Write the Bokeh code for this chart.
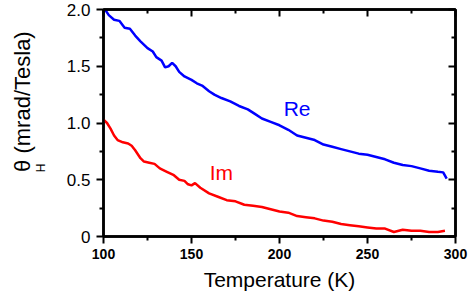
from bokeh.plotting import figure
from bokeh.models import Range1d, FixedTicker, LinearAxis, Label
from bokeh.embed import file_html
from bokeh.resources import INLINE

# Data
T_re = [100, 103, 106, 109, 112, 115, 118, 121, 125, 128, 130, 133, 135, 137, 139, 141, 143, 146,
        150, 153, 156, 160, 163, 167, 172, 177, 182, 186, 190, 195, 200, 205, 210, 215, 220,
        225, 230, 235, 240, 245, 250, 255, 260, 265, 270, 275, 280, 285, 290, 293, 295]
re_vals = [2.02, 1.95, 1.91, 1.90, 1.84, 1.83, 1.77, 1.72, 1.66, 1.63, 1.58, 1.55, 1.49, 1.50, 1.53, 1.50, 1.45, 1.41,
           1.38, 1.35, 1.33, 1.28, 1.25, 1.22, 1.19, 1.15, 1.12, 1.08, 1.04, 1.01, 0.98, 0.94, 0.89, 0.87, 0.85,
           0.81, 0.79, 0.77, 0.75, 0.73, 0.72, 0.70, 0.68, 0.65, 0.63, 0.62, 0.60, 0.58, 0.57, 0.565, 0.51]

T_im = [100, 102, 104, 106, 108, 111, 114, 116, 118, 121, 123, 126, 129, 132, 136, 140, 143, 146, 148,
        150, 152, 155, 160, 165, 170, 175, 180, 185, 190, 195, 200, 205, 210, 215, 220, 225, 230,
        235, 240, 245, 250, 255, 260, 265, 270, 275, 280, 285, 290, 294]
im_vals = [1.03, 1.00, 0.95, 0.89, 0.85, 0.83, 0.82, 0.80, 0.76, 0.69, 0.66, 0.65, 0.64, 0.60, 0.57, 0.54, 0.50, 0.49, 0.46,
           0.45, 0.47, 0.43, 0.38, 0.35, 0.32, 0.31, 0.28, 0.27, 0.26, 0.24, 0.22, 0.21, 0.18, 0.17, 0.16, 0.14, 0.13,
           0.11, 0.10, 0.09, 0.08, 0.07, 0.07, 0.04, 0.06, 0.05, 0.05, 0.04, 0.04, 0.05]

x_ticks = [100, 150, 200, 250, 300]
x_minor = [125, 175, 225, 275]
y_ticks = [0, 0.5, 1.0, 1.5, 2.0]
y_minor = [0.25, 0.75, 1.25, 1.75]
y_tick_labels = {0: "0", 0.5: "0.5", 1.0: "1.0", 1.5: "1.5", 2.0: "2.0"}

FONT = "Liberation Sans"
NB = "\u00a0"

p = figure(width=469, height=306, output_backend="svg", toolbar_location=None,
           x_range=Range1d(100, 300), y_range=Range1d(0, 2.0),
           min_border_left=103, min_border_right=14, min_border_top=9, min_border_bottom=70)
p.background_fill_color = "white"
p.border_fill_color = "white"
p.grid.visible = False
p.outline_line_color = "black"
p.outline_line_width = 2.5

p.line(T_re, re_vals, line_color="#0000ff", line_width=2.5)
p.line(T_im, im_vals, line_color="#ff0000", line_width=2.5)

xa = p.xaxis[0]
xa.ticker = FixedTicker(ticks=x_ticks, minor_ticks=x_minor)
xa.axis_label = "Temperature (K)"
xa.axis_label_text_font = FONT
xa.axis_label_text_font_size = "21px"
xa.axis_label_text_font_style = "normal"
xa.axis_label_standoff = 6
xa.major_label_text_font = FONT
xa.major_label_text_font_style = "bold"
xa.major_label_text_font_size = "14px"
xa.major_label_standoff = 5

ya = p.yaxis[0]
ya.ticker = FixedTicker(ticks=y_ticks, minor_ticks=y_minor)
ya.major_label_overrides = y_tick_labels
ya.major_label_text_font = FONT
ya.major_label_text_font_size = "17px"
ya.major_label_standoff = 6
# subscript "H" of the y label (padded so that it sits after the theta)
ya.axis_label = "H" + NB * 27
ya.axis_label_text_font = FONT
ya.axis_label_text_font_size = "12px"
ya.axis_label_text_font_style = "normal"
ya.axis_label_standoff = 16

for ax in (xa, ya):
    ax.axis_line_color = "black"
    ax.axis_line_width = 2.5
    ax.major_tick_line_color = "black"
    ax.major_tick_line_width = 2
    ax.minor_tick_line_color = "black"
    ax.minor_tick_line_width = 2
    ax.major_tick_in = 0
    ax.major_tick_out = 7
    ax.minor_tick_in = 0
    ax.minor_tick_out = 4
    ax.major_label_text_color = "black"
    ax.axis_label_text_color = "black"

# outer left axis that only carries the main part of the y label
ylab = LinearAxis(ticker=FixedTicker(ticks=[], minor_ticks=[]))
ylab.axis_line_color = None
ylab.major_tick_line_color = None
ylab.minor_tick_line_color = None
ylab.major_label_standoff = 0
ylab.major_tick_out = 0
ylab.major_tick_in = 0
ylab.minor_tick_out = 0
ylab.minor_tick_in = 0
ylab.axis_label = NB * 7 + "θ" + NB + "(mrad/Tesla)"
ylab.axis_label_text_font = FONT
ylab.axis_label_text_font_size = "22px"
ylab.axis_label_text_font_style = "normal"
ylab.axis_label_text_color = "black"
ylab.axis_label_standoff = -4
p.add_layout(ylab, "left")

top = LinearAxis(ticker=FixedTicker(ticks=x_ticks, minor_ticks=x_minor))
top.major_label_overrides = {t: "" for t in x_ticks}
right = LinearAxis(ticker=FixedTicker(ticks=y_ticks, minor_ticks=y_minor))
right.major_label_overrides = {t: "" for t in y_ticks}
for ax in (top, right):
    ax.major_label_standoff = 0
    ax.axis_line_color = "black"
    ax.axis_line_width = 2.5
    ax.major_tick_line_width = 2
    ax.minor_tick_line_width = 2
    ax.major_tick_in = 7
    ax.major_tick_out = 0
    ax.minor_tick_in = 4
    ax.minor_tick_out = 0
p.add_layout(top, "above")
p.add_layout(right, "right")

# Series labels
p.add_layout(Label(x=210, y=1.13, text="Re", text_color="#0000ff", text_font=FONT,
                   text_font_size="21px", text_align="center", text_baseline="middle"))
p.add_layout(Label(x=167, y=0.56, text="Im", text_color="#ff0000", text_font=FONT,
                   text_font_size="21px", text_align="center", text_baseline="middle"))

open("out.html", "w").write(file_html(p, INLINE))
